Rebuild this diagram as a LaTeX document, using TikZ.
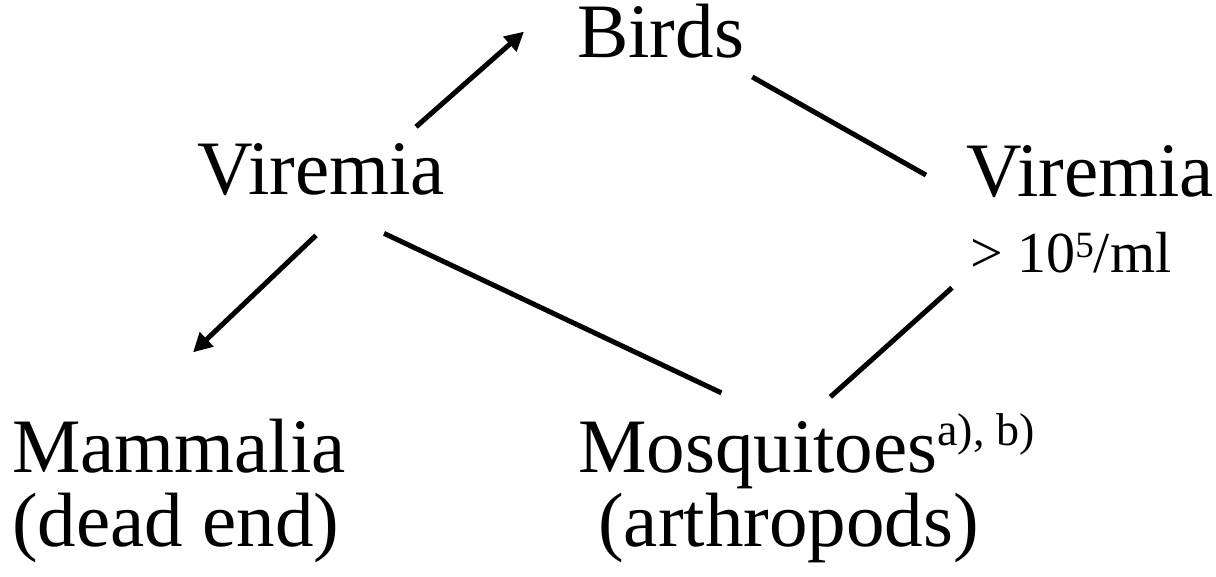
\documentclass[tikz,border=0pt]{standalone}
\usepackage{fontspec}
\setmainfont{Liberation Serif}
\usetikzlibrary{arrows.meta, calc}

\begin{document}
\begin{tikzpicture}[x=1pt, y=-1pt,
  every node/.style={anchor=base west, inner sep=0pt, font=\fontsize{77}{77}\selectfont},
  smalltxt/.style={font=\fontsize{58}{58}\selectfont},
  link/.style={draw=black, line width=5pt},
  flow/.style={link, -{Triangle[length=19pt, width=19pt]}}]
  \useasboundingbox (0,0) rectangle (1216,577);
  % hosts
  \node (birds) at (577,58) {Birds};
  \node (virL)  at (197,195) {Viremia};
  \node (virR)  at (966,197) {Viremia};
  \node[smalltxt] (conc) at (970,273) {> 10{\fontsize{37}{37}\selectfont\raisebox{15pt}{5}}/ml};
  \node (mamm)  at (12,472) {Mammalia};
  \node (dead)  at (12,546) {(dead end)};
  \node (mosq)  at (578,472) {Mosquitoes{\fontsize{46}{46}\selectfont\raisebox{27pt}{a), b)}}};
  \node (arth)  at (598,546) {(arthropods)};
  % connectors
  \draw[flow] ($(virL.north east)+(-29,-17)$) -- ($(birds.west)+(-53,0)$);
  \draw[flow] ($(virL.south)+(-5,39)$) -- ($(mamm.north)+(14,-66)$);
  \draw[link] ($(birds.south east)+(8,18)$) -- ($(virR.west)+(-40,3)$);
  \draw[link] ($(virL.south east)+(-61,37)$) -- ($(mosq.north)+(-85,-20)$);
  \draw[link] ($(mosq.north)+(24,-16)$) -- ($(conc.south west)+(-18,14)$);
\end{tikzpicture}
\end{document}
